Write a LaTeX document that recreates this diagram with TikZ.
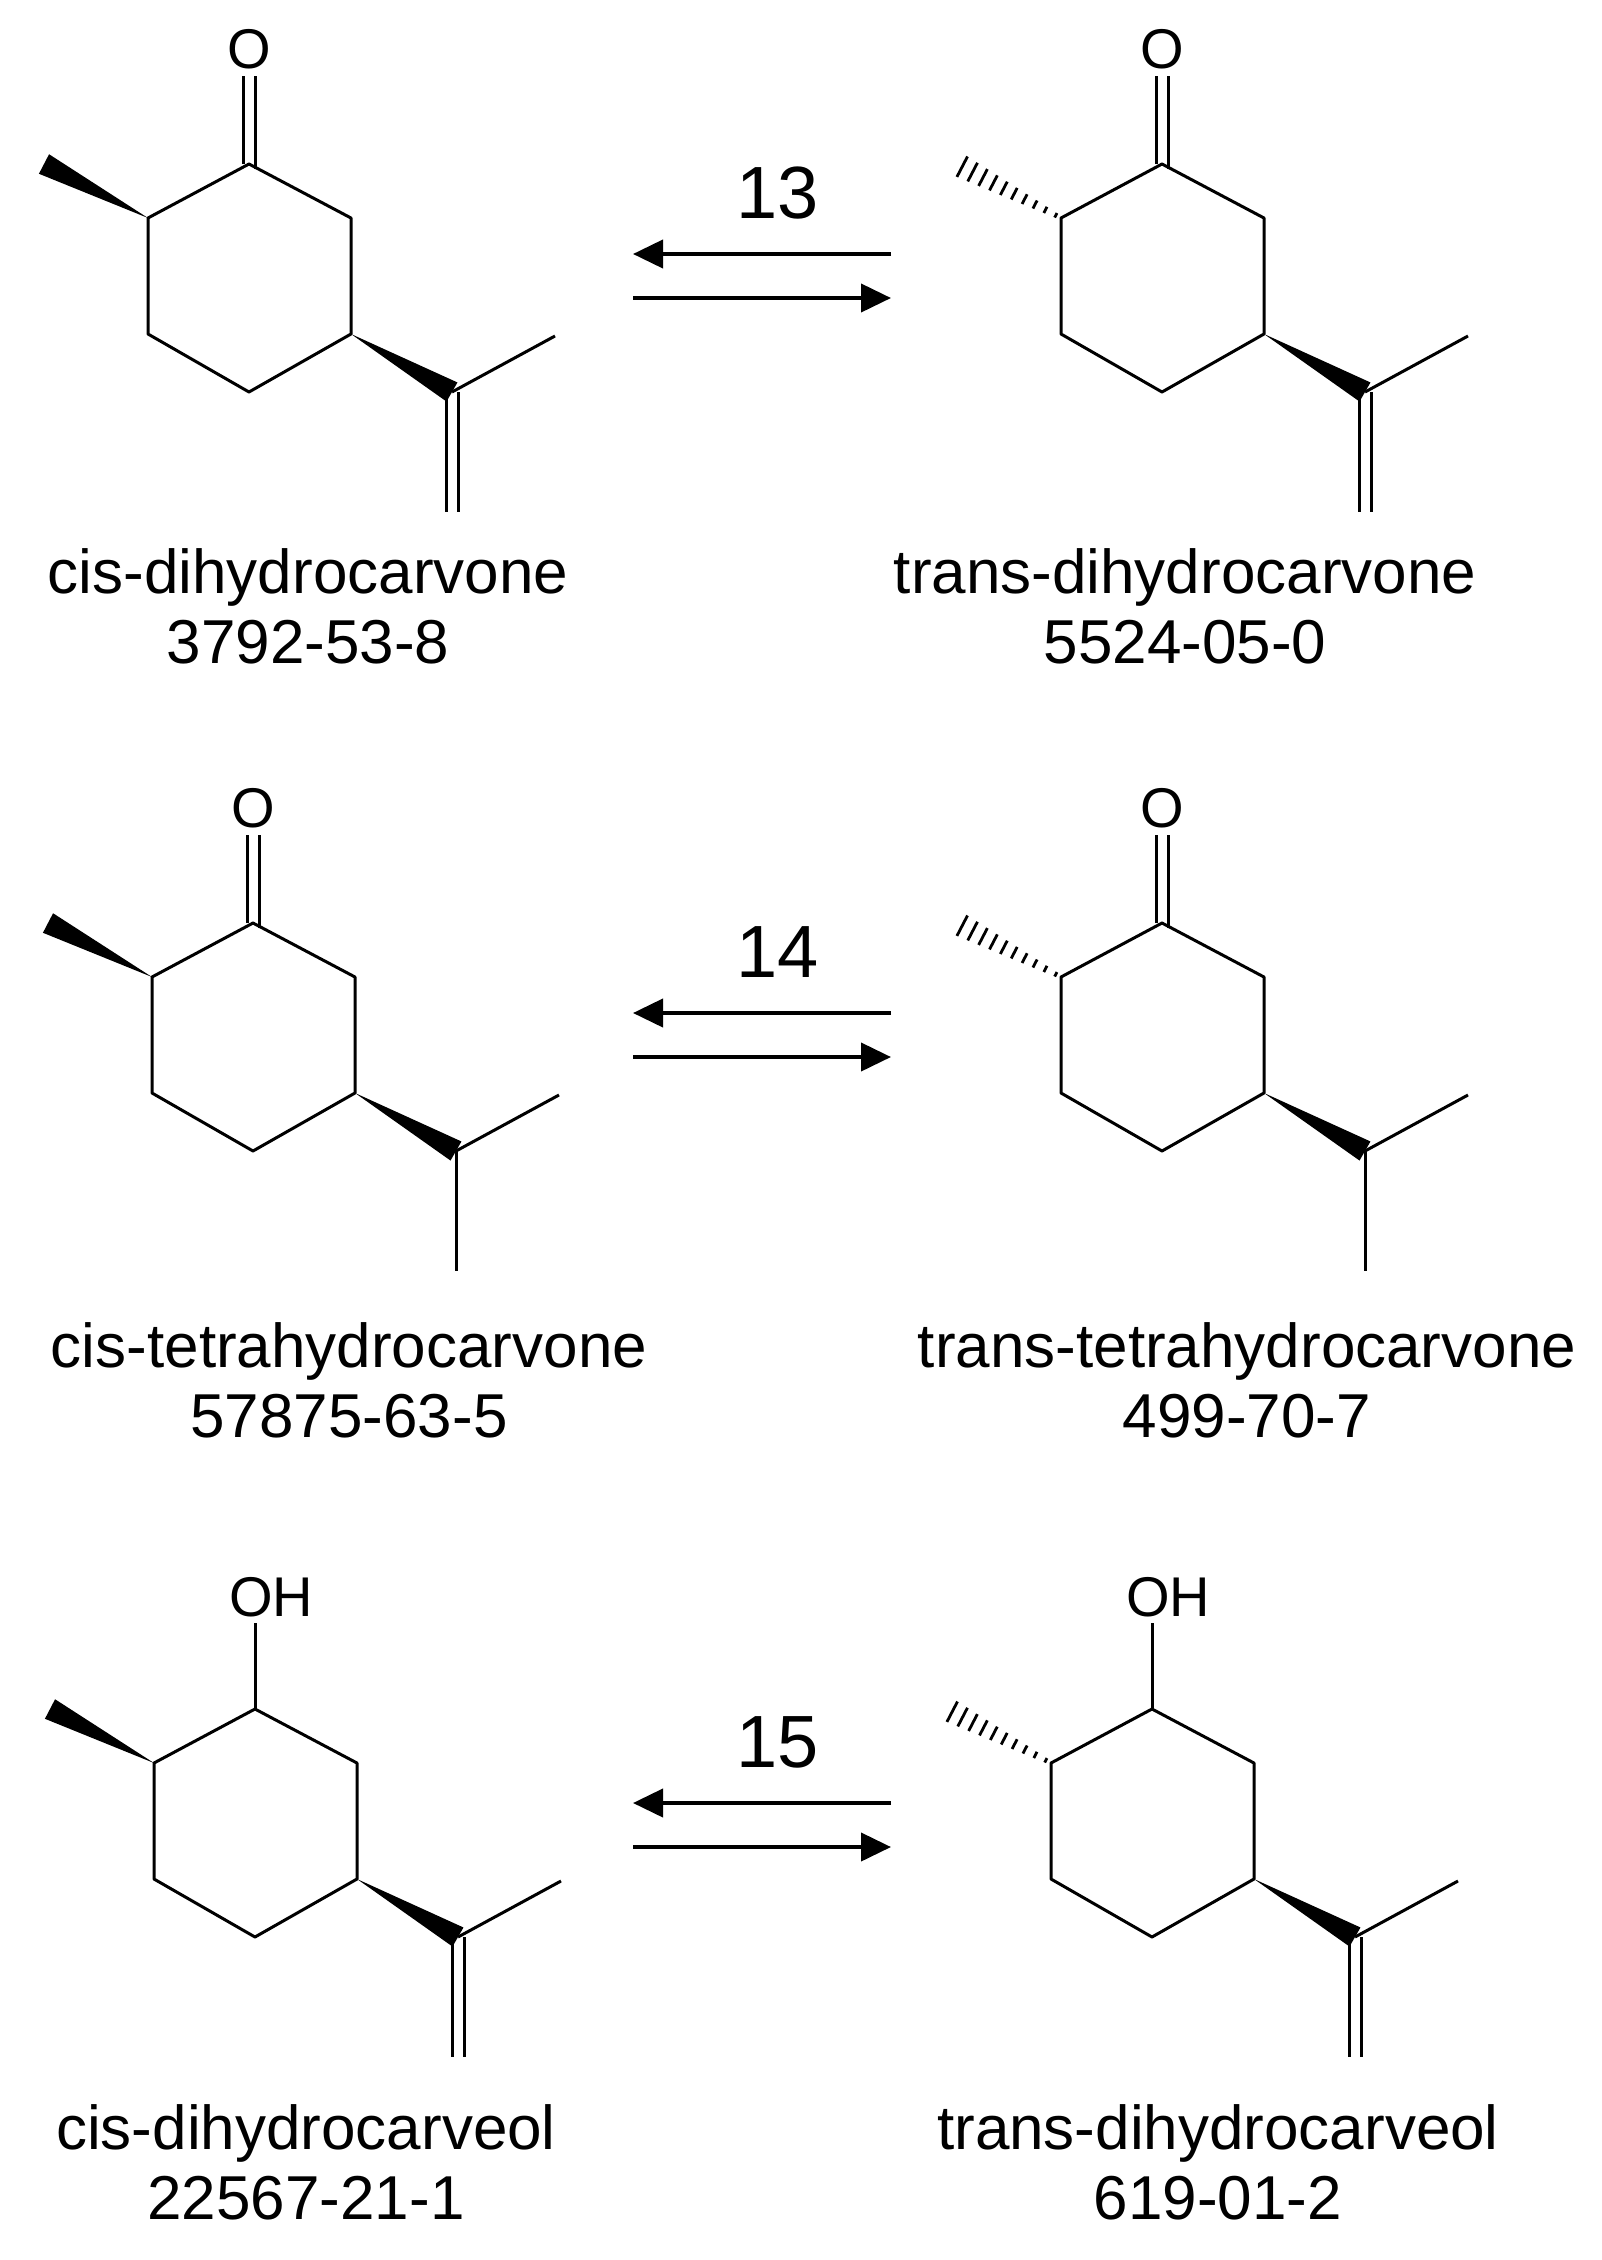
\documentclass[tikz,border=0pt]{standalone}
\usepackage{fontspec}
\setmainfont{Liberation Sans}
\usetikzlibrary{calc,arrows.meta}
\tikzset{bond/.style={line width=3pt},
 lbl/.style={font=\fontsize{62}{70}\selectfont,inner sep=0pt,align=center},
 atom/.style={font=\fontsize{56}{60}\selectfont,inner sep=0pt},
 num/.style={font=\fontsize{74}{80}\selectfont,inner sep=0pt},
 rxn/.style={line width=4pt,-{Triangle[length=30pt,width=28pt]}}}
\newcommand\wedgeb[2]{\fill ($(#1)$) -- ($(#2)!11pt!90:(#1)$) -- ($(#2)!11pt!-90:(#1)$) -- cycle;}
\newcommand\hashb[2]{\foreach \t in {0.05,0.15,...,1.0}{%
 \coordinate (hp) at ($(#1)!\t!(#2)$);
 \draw[line width=2.8pt] ($(hp)!{2pt+10pt*\t}!90:(#2)$) -- ($(hp)!{2pt+10pt*\t}!-90:(#2)$);}}
% #1 prefix, #2 x, #3 y, #4 O/OH, #5 wedge/hash, #6 ene/ane
\newcommand\molecule[6]{%
\begin{scope}[shift={(#2,#3)}]
\coordinate (#1a) at (0,0);
\coordinate (#1b) at (-101,54);
\coordinate (#1c) at (-101,170);
\coordinate (#1d) at (0,228);
\coordinate (#1e) at (102,170);
\coordinate (#1f) at (102,54);
\coordinate (#1i) at (203,228);
\coordinate (#1m) at (306,172);
\coordinate (#1n) at (203,348);
\coordinate (#1s) at (-205,0);
\draw[bond,line join=round] (#1a)--(#1b)--(#1c)--(#1d)--(#1e)--(#1f)--cycle;
\draw[bond] (#1i)--(#1m);
\wedgeb{#1e}{#1i}
\ifnum#4=1
 \node[atom] (#1o) at (0,-115) {O};
 \draw[bond] (-6,0)--(-6,-88) (6,5)--(6,-88);
\else
 \node[atom,anchor=west] (#1o) at (-26,-112) {OH};
 \draw[bond] (#1a)--(0,-86);
\fi
\ifnum#5=1 \wedgeb{#1b}{#1s}\else \hashb{#1b}{#1s}\fi
\ifnum#6=1
 \draw[bond] ($(#1i)+(-6,0)$)--($(#1n)+(-6,0)$) ($(#1i)+(6,0)$)--($(#1n)+(6,0)$);
\else
 \draw[bond] (#1i)--(#1n);
\fi
\end{scope}}
\begin{document}
\begin{tikzpicture}[x=1pt,y=-1pt]
\useasboundingbox (0,0) rectangle (1602,2260);
\fill[white] (0,0) rectangle (1602,2260);
\molecule{p}{249}{164}{1}{1}{1}
\molecule{q}{1162}{164}{1}{2}{1}
\molecule{r}{253}{923}{1}{1}{2}
\molecule{s}{1162}{923}{1}{2}{2}
\molecule{t}{255}{1709}{2}{1}{1}
\molecule{u}{1152}{1709}{2}{2}{1}
\node[lbl] (pl) at (308,606) {cis-dihydrocarvone\\3792-53-8};
\node[lbl] (ql) at (1185,606) {trans-dihydrocarvone\\5524-05-0};
\node[lbl] (rl) at (349,1380) {cis-tetrahydrocarvone\\57875-63-5};
\node[lbl] (sl) at (1247,1380) {trans-tetrahydrocarvone\\499-70-7};
\node[lbl] (tl) at (306,2162) {cis-dihydrocarveol\\22567-21-1};
\node[lbl] (ul) at (1218,2162) {trans-dihydrocarveol\\619-01-2};
\foreach \k/\y/\lab in {1/254/13, 2/1013/14, 3/1803/15}{
 \coordinate (L\k) at (633,\y); \coordinate (R\k) at (891,\y);
 \coordinate (L2\k) at (633,\y+44); \coordinate (R2\k) at (891,\y+44);
 \draw[rxn] (R\k) -- (L\k);
 \draw[rxn] (L2\k) -- (R2\k);
 \node[num] (n\k) at (778,\y-61) {\lab};
}
\end{tikzpicture}
\end{document}
